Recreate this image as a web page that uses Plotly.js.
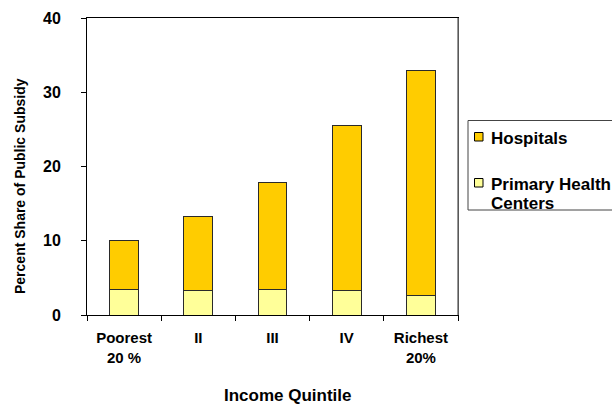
<!DOCTYPE html>
<html>
<head>
<meta charset="utf-8">
<script src="https://cdn.plot.ly/plotly-3.0.1.min.js"></script>
<style>
  html, body { margin: 0; padding: 0; background: #fff; }
  #chart { width: 612px; height: 405px; }
</style>
</head>
<body>
<div id="chart"></div>
<script>
// Income quintiles and share of public health subsidy (%)
const quintiles = ['Poorest<br>20 %', 'II', 'III', 'IV', 'Richest<br>20%'];
const primaryHealthCenters = [3.45, 3.3, 3.45, 3.25, 2.6];
const hospitals = [6.65, 10.0, 14.35, 22.25, 30.35];
const yTicks = [0, 10, 20, 30, 40];
const seriesNames = { hospitals: 'Hospitals', phc: ['Primary Health', 'Centers'] };
const colors = { hospitals: '#FFCC00', phc: '#FFFF99' };

const FONT = 'Liberation Sans, Arial, sans-serif';
const W = 612, H = 405;
const M = { l: 87, r: 154, t: 18, b: 90 };

// pixel -> paper coordinate helpers for the hand-placed legend and titles
const px = x => (x - M.l) / (W - M.l - M.r);
const py = y => (H - M.b - y) / (H - M.t - M.b);

const barLine = { color: '#2a2a2a', width: 1 };

const traces = [
  {
    type: 'bar',
    name: seriesNames.phc.join(' '),
    x: quintiles,
    y: primaryHealthCenters,
    marker: { color: colors.phc, line: barLine },
    hoverinfo: 'x+y'
  },
  {
    type: 'bar',
    name: seriesNames.hospitals,
    x: quintiles,
    y: hospitals,
    marker: { color: colors.hospitals, line: barLine },
    hoverinfo: 'x+y'
  }
];

const legendFont = { family: FONT, size: 17, weight: 'bold', color: '#000' };

const layout = {
  width: W,
  height: H,
  margin: Object.assign({ autoexpand: false }, M),
  paper_bgcolor: '#fff',
  plot_bgcolor: '#fff',
  barmode: 'stack',
  bargap: 0.61,
  showlegend: false,
  font: { family: FONT, color: '#000', size: 14, weight: 'bold' },
  xaxis: {
    type: 'category',
    tickson: 'boundaries',
    ticks: 'outside',
    ticklen: 5,
    tickcolor: '#000',
    showline: true,
    linecolor: '#000',
    linewidth: 1,
    mirror: true,
    showgrid: false,
    tickfont: { family: FONT, size: 15, weight: 'bold' },
    ticklabelstandoff: 9
  },
  yaxis: {
    range: [0, 40],
    tickvals: yTicks,
    ticktext: yTicks.map(String),
    ticks: 'outside',
    ticklen: 5,
    tickcolor: '#000',
    showline: true,
    linecolor: '#000',
    linewidth: 1,
    mirror: true,
    showgrid: false,
    zeroline: false,
    tickfont: { family: FONT, size: 16, weight: 'bold' },
    ticklabelstandoff: 17
  },
  annotations: [
    { text: 'Percent Share of Public Subsidy', textangle: -90, showarrow: false,
      xref: 'paper', yref: 'paper', x: px(20), y: py(186), xanchor: 'center', yanchor: 'middle',
      font: { family: FONT, size: 14, weight: 'bold' } },
    { text: 'Income Quintile', showarrow: false,
      xref: 'paper', yref: 'paper', x: px(287.5), y: py(395), xanchor: 'center', yanchor: 'middle',
      font: { family: FONT, size: 17, weight: 'bold' } },
    // legend labels
    { text: seriesNames.hospitals, showarrow: false, xref: 'paper', yref: 'paper',
      x: px(489), y: py(138.5), xanchor: 'left', yanchor: 'middle', font: legendFont },
    { text: seriesNames.phc[0], showarrow: false, xref: 'paper', yref: 'paper',
      x: px(489), y: py(184), xanchor: 'left', yanchor: 'middle', font: legendFont },
    { text: seriesNames.phc[1], showarrow: false, xref: 'paper', yref: 'paper',
      x: px(489), y: py(203.5), xanchor: 'left', yanchor: 'middle', font: legendFont }
  ],
  shapes: [
    // grey right edge of the plot frame
    { type: 'line', xref: 'paper', yref: 'paper', x0: 1, x1: 1, y0: 0, y1: 1,
      line: { color: '#777', width: 1.5 } },
    // legend box (runs past the right edge of the page)
    { type: 'rect', xref: 'paper', yref: 'paper', x0: px(468), x1: px(700), y0: py(210), y1: py(120.5),
      fillcolor: '#fff', line: { color: '#444', width: 1 } },
    // legend swatches
    { type: 'rect', xref: 'paper', yref: 'paper', x0: px(474.5), x1: px(483), y0: py(141), y1: py(132.5),
      fillcolor: colors.hospitals, line: { color: '#000', width: 1 } },
    { type: 'rect', xref: 'paper', yref: 'paper', x0: px(474.5), x1: px(483), y0: py(187), y1: py(178.5),
      fillcolor: colors.phc, line: { color: '#000', width: 1 } }
  ]
};

Plotly.newPlot('chart', traces, layout, { displayModeBar: false, staticPlot: true });
</script>
</body>
</html>
